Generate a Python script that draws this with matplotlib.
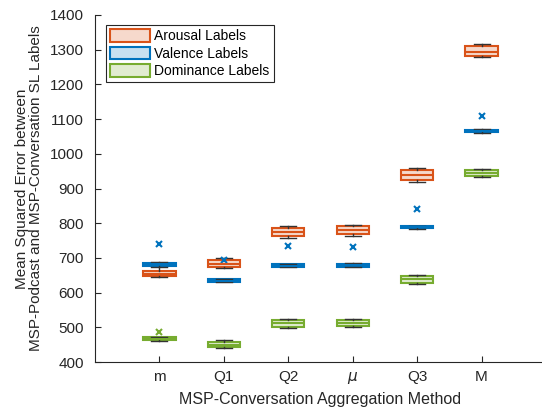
import matplotlib
matplotlib.use("Agg")
import matplotlib.pyplot as plt
from matplotlib.patches import Patch
from matplotlib.colors import to_rgba

plt.rcParams['font.family'] = ['Liberation Sans', 'DejaVu Sans']

# aggregation methods on the x axis
methods = ['m', 'Q1', 'Q2', r'$\mu$', 'Q3', 'M']
positions = [1, 2, 3, 4, 5, 6]

# Arousal labels: whisker low, Q1, median, Q3, whisker high
aro_lo = [645, 670, 758, 764, 918, 1278]
aro_q1 = [648, 673, 762, 768, 924, 1282]
aro_med = [655, 682, 774, 779, 938, 1293]
aro_q3 = [661, 694, 787, 792, 954, 1311]
aro_hi = [676, 700, 791, 795, 960, 1316]
aro_out = [[], [], [], [], [], []]

# Valence labels
val_lo = [675, 630, 673, 674, 784, 1059]
val_q1 = [677, 631, 674, 675, 785, 1062]
val_med = [681, 634, 678, 679, 788, 1066]
val_q3 = [686, 638, 682, 683, 791, 1070]
val_hi = [688, 639, 683, 684, 792, 1071]
val_out = [[739], [694], [735], [732], [841], [1109]]

# Dominance labels
dom_lo = [461, 441, 499, 501, 626, 933]
dom_q1 = [463, 443, 502, 504, 627, 936]
dom_med = [467, 450, 513, 513, 638, 945]
dom_q3 = [471, 457, 521, 521, 648, 954]
dom_hi = [472, 464, 523, 524, 650, 957]
dom_out = [[487], [], [], [], [], []]

series = [
    ("Arousal Labels", "#D95319", aro_lo, aro_q1, aro_med, aro_q3, aro_hi, aro_out),
    ("Valence Labels", "#0072BD", val_lo, val_q1, val_med, val_q3, val_hi, val_out),
    ("Dominance Labels", "#77AC30", dom_lo, dom_q1, dom_med, dom_q3, dom_hi, dom_out),
]

fig = plt.figure(figsize=(5.42, 4.12), dpi=100)
ax = fig.add_axes([95 / 542, 50 / 412, 451 / 542, 347 / 412])

dark = "#262626"
handles = []
for name, col, lo, q1, med, q3, hi, out in series:
    stats = []
    for i in range(len(positions)):
        stats.append(dict(whislo=lo[i], q1=q1[i], med=med[i], q3=q3[i],
                          whishi=hi[i], fliers=out[i]))
    ax.bxp(stats, positions=positions, widths=0.5, capwidths=0.25,
           patch_artist=True, manage_ticks=False,
           boxprops=dict(facecolor=to_rgba(col, 0.22), edgecolor=col, linewidth=1.5),
           medianprops=dict(color=col, linewidth=1.5),
           whiskerprops=dict(color="#333333", linewidth=1),
           capprops=dict(color="#333333", linewidth=1),
           flierprops=dict(marker='x', markeredgecolor=col, markersize=5,
                           markeredgewidth=1.5, linestyle='none'))
    handles.append(Patch(facecolor=to_rgba(col, 0.22), edgecolor=col,
                         linewidth=1.5, label=name))

ax.set_xlim(0, 7)
ax.set_ylim(400, 1400)
ax.set_xticks(positions)
ax.set_xticklabels(methods)
ax.set_yticks(range(400, 1401, 100))
ax.tick_params(direction='in', length=4, width=0.8, colors=dark,
               labelsize=11)
ax.tick_params(axis='y', pad=8)
ax.tick_params(axis='x', pad=6)
for s in ['top', 'right']:
    ax.spines[s].set_visible(False)
for s in ['left', 'bottom']:
    ax.spines[s].set_color(dark)
    ax.spines[s].set_linewidth(0.8)

ax.set_xlabel("MSP-Conversation Aggregation Method", fontsize=11.5,
              color=dark, labelpad=4)
ax.set_ylabel("Mean Squared Error between\nMSP-Podcast and MSP-Conversation SL Labels",
              fontsize=11, color=dark, labelpad=5, linespacing=1.0)

leg = ax.legend(handles=handles, loc='upper left',
                bbox_to_anchor=(10.7 / 451, 1 - 10 / 347), borderaxespad=0,
                fontsize=10, fancybox=False, edgecolor=dark, framealpha=1,
                handlelength=2.9, handleheight=1.0, handletextpad=0.3,
                labelspacing=0.25, borderpad=0.3)
leg.get_frame().set_linewidth(0.8)

fig.savefig("out.png", dpi=100)
